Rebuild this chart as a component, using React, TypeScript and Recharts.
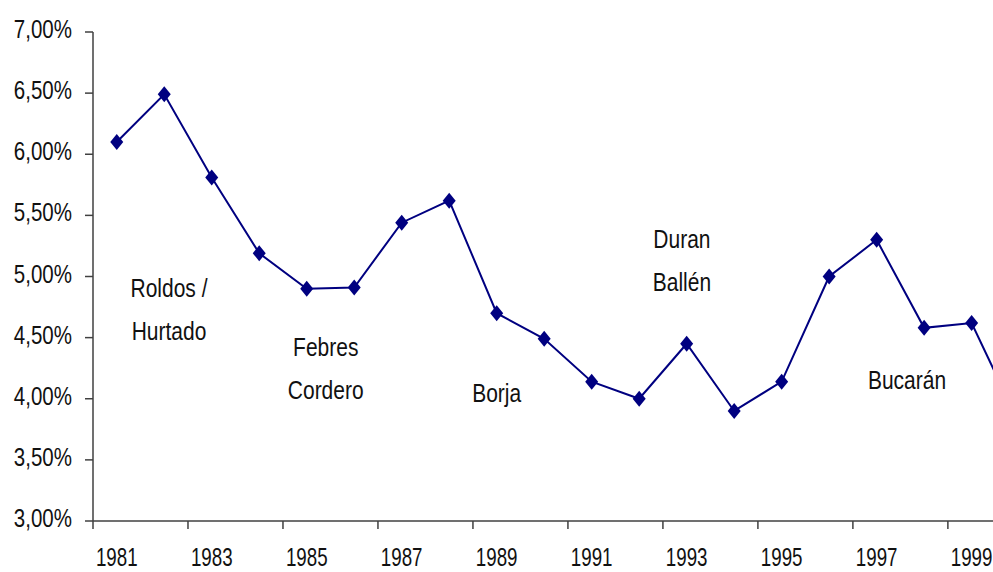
import { LineChart, Line, XAxis, YAxis, ReferenceDot } from 'recharts'

const years = [1981, 1982, 1983, 1984, 1985, 1986, 1987, 1988, 1989, 1990, 1991, 1992, 1993, 1994, 1995, 1996, 1997, 1998, 1999, 2000]
const rates = [6.1, 6.49, 5.81, 5.19, 4.9, 4.91, 5.44, 5.62, 4.7, 4.49, 4.14, 4.0, 4.45, 3.9, 4.14, 5.0, 5.3, 4.58, 4.62, 3.8]

const yTicks = [3, 3.5, 4, 4.5, 5, 5.5, 6, 6.5, 7]
// tick marks sit between years, labels every other year
const xTickBounds = [1980.5, 1982.5, 1984.5, 1986.5, 1988.5, 1990.5, 1992.5, 1994.5, 1996.5, 1998.5]

const annotations = [
  { year: 1982.1, rate: 4.73, lines: ['Roldos /', 'Hurtado'] },
  { year: 1985.4, rate: 4.25, lines: ['Febres', 'Cordero'] },
  { year: 1989.0, rate: 4.05, lines: ['Borja'] },
  { year: 1992.9, rate: 5.13, lines: ['Duran', 'Ballén'] },
  { year: 1997.64, rate: 4.15, lines: ['Bucarán'] },
]

const data = years.map((year, i) => ({ year, rate: rates[i] }))

const W = 993
const H = 572
const Y_AXIS_W = 93
const X_MIN = 1980.5
const X_MAX = 1999.45
const pxPerYear = (W - Y_AXIS_W) / (X_MAX - X_MIN)

const FONT = '"Liberation Sans", Arial, sans-serif'
const TEXT = '#111'
const NAVY = '#000080'
const AXIS = '#404040'

const fmtPct = (v: number) => v.toFixed(2).replace('.', ',') + '%'

function YTick({ x, y, payload }: any) {
  return (
    <g transform={`translate(${x},${y + 6}) scale(0.82,1)`}>
      <text textAnchor="end" fontSize={25} fill={TEXT} fontFamily={FONT}>
        {fmtPct(payload.value)}
      </text>
    </g>
  )
}

function XTick({ x, y, payload }: any) {
  return (
    <g transform={`translate(${x + pxPerYear / 2},${y + 35}) scale(0.75,1)`}>
      <text textAnchor="middle" fontSize={25} fill={TEXT} fontFamily={FONT}>
        {payload.value + 0.5}
      </text>
    </g>
  )
}

function Diamond({ cx, cy }: any) {
  if (cx == null || cy == null) return null
  return (
    <polygon
      points={`${cx},${cy - 8} ${cx + 6.5},${cy} ${cx},${cy + 8} ${cx - 6.5},${cy}`}
      fill={NAVY}
    />
  )
}

function Annotation({ cx, cy, lines }: any) {
  const gap = 43
  return (
    <g>
      {lines.map((t: string, i: number) => (
        <g key={t} transform={`translate(${cx},${cy + (i - (lines.length - 1) / 2) * gap + 9}) scale(0.84,1)`}>
          <text textAnchor="middle" fontSize={25} fill={TEXT} fontFamily={FONT}>
            {t}
          </text>
        </g>
      ))}
    </g>
  )
}

export default function App() {
  return (
    <div style={{ position: 'absolute', left: 0, top: 0, width: W, height: H, overflow: 'hidden', background: '#fff' }}>
      <LineChart width={W} height={H} data={data} margin={{ top: 32, right: 0, bottom: 0, left: 0 }}>
        <XAxis
          dataKey="year"
          type="number"
          domain={[X_MIN, X_MAX]}
          allowDataOverflow
          ticks={xTickBounds}
          interval={0}
          height={51}
          tickSize={8}
          tickMargin={2}
          stroke={AXIS}
          strokeWidth={1.5}
          tick={<XTick />}
        />
        <YAxis
          type="number"
          domain={[3, 7]}
          ticks={yTicks}
          interval={0}
          width={Y_AXIS_W}
          tickSize={8}
          tickMargin={13}
          stroke={AXIS}
          strokeWidth={1.5}
          tick={<YTick />}
        />
        {annotations.map((a) => (
          <ReferenceDot
            key={a.lines[0]}
            x={a.year}
            y={a.rate}
            r={0}
            shape={(p: any) => <Annotation cx={p.cx} cy={p.cy} lines={a.lines} />}
          />
        ))}
        <Line
          type="linear"
          dataKey="rate"
          stroke={NAVY}
          strokeWidth={2}
          dot={<Diamond />}
          activeDot={false}
          isAnimationActive={false}
        />
      </LineChart>
    </div>
  )
}
